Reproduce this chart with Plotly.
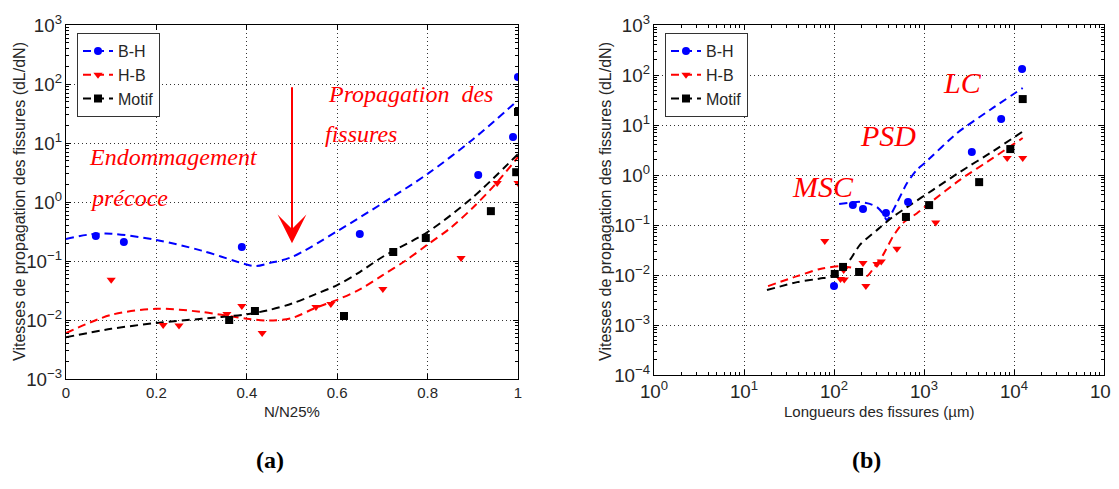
import math
import plotly.graph_objects as go

# page is rendered with an 8px body margin: figure covers the window minus that offset
OFF = 8
W, H = 1119 - OFF, 489 - OFF

# ---------------- Panel (a): rate vs N/N25% ----------------
a_bh_x = [0.066, 0.128, 0.389, 0.650, 0.912, 0.989, 1.0]
a_bh_y = [0.265, 0.21, 0.173, 0.287, 2.87, 12.6, 131]
a_hb_x = [0.10, 0.215, 0.25, 0.356, 0.389, 0.434, 0.553, 0.586, 0.701, 0.874, 0.954, 1.0]
a_hb_y = [0.048, 0.0082, 0.0081, 0.0126, 0.0173, 0.006, 0.0166, 0.0187, 0.0335, 0.112, 2.1, 2.1]
a_mo_x = [0.361, 0.418, 0.615, 0.724, 0.796, 0.94, 0.996, 1.0]
a_mo_y = [0.010, 0.0142, 0.0117, 0.142, 0.245, 0.70, 3.2, 33.5]

# dashed fitted curves
a_fit_bh_x = [0, 0.05, 0.1, 0.2, 0.3, 0.4, 0.42, 0.45, 0.5, 0.6, 0.7, 0.8, 0.9, 1.0]
a_fit_bh_y = [0.236, 0.28, 0.29, 0.227, 0.15, 0.087, 0.082, 0.092, 0.117, 0.32, 0.95, 3.0, 11.5, 53]
a_fit_hb_x = [0, 0.1, 0.2, 0.3, 0.4, 0.45, 0.5, 0.55, 0.6, 0.65, 0.7, 0.75, 0.8, 0.85, 0.9, 0.95, 1.0]
a_fit_hb_y = [0.006, 0.0122, 0.0155, 0.0137, 0.0105, 0.0098, 0.0108, 0.0158, 0.022, 0.033, 0.057, 0.10, 0.19, 0.36, 0.8, 2.0, 5.8]
a_fit_mo_x = [0, 0.1, 0.2, 0.3, 0.4, 0.45, 0.5, 0.55, 0.6, 0.65, 0.7, 0.8, 0.9, 1.0]
a_fit_mo_y = [0.0051, 0.0071, 0.0089, 0.0105, 0.0125, 0.0148, 0.019, 0.027, 0.039, 0.065, 0.117, 0.31, 1.2, 6.5]

# ---------------- Panel (b): rate vs crack length ----------------
b_bh_x = [100, 162, 210, 378, 665, 3400, 7200, 12300]
b_bh_y = [0.006, 0.25, 0.21, 0.174, 0.29, 2.88, 13.2, 132]
b_hb_x = [79, 118, 130, 128, 210, 226, 300, 335, 500, 1350, 8400, 12500]
b_hb_y = [0.048, 0.0083, 0.0081, 0.0126, 0.0173, 0.006, 0.0166, 0.0187, 0.0335, 0.112, 2.2, 2.2]
b_mo_x = [102, 126, 190, 630, 1140, 4100, 9100, 12500]
b_mo_y = [0.0105, 0.0145, 0.0115, 0.145, 0.25, 0.72, 3.3, 33]

b_fit_bh_x = [114, 150, 194, 250, 300, 350, 385, 410, 500, 648, 830, 1020, 2330, 5400, 12500]
b_fit_bh_y = [0.263, 0.28, 0.29, 0.265, 0.229, 0.17, 0.125, 0.14, 0.275, 0.69, 1.26, 1.74, 6.9, 20, 55]
b_fit_hb_x = [18.5, 39, 70, 116, 180, 232, 285, 350, 450, 585, 830, 1160, 2510, 5860, 12500]
b_fit_hb_y = [0.006, 0.0095, 0.0132, 0.015, 0.0132, 0.0095, 0.015, 0.025, 0.058, 0.11, 0.17, 0.275, 0.8, 2.2, 5.5]
b_fit_mo_x = [18, 39, 70, 98, 108, 150, 194, 300, 450, 700, 1250, 2510, 5860, 12500]
b_fit_mo_y = [0.005, 0.0072, 0.0085, 0.0095, 0.011, 0.02, 0.04, 0.079, 0.145, 0.25, 0.5, 1.15, 3.0, 7.4]

series_names = ["B-H", "H-B", "Motif"]
colors = ["#0000FF", "#FF0000", "#000000"]
symbols = ["circle", "triangle-down", "square"]
msizes = [8, 8, 8]

SANS = "Liberation Sans, Arial, sans-serif"
SERIF = "Liberation Serif, Times New Roman, serif"
TXT = "#262626"
DASH = "8px,5px"


def px(x):
    return (x - OFF) / W


def py(y):
    return 1 - (y - OFF) / H


fig = go.Figure()

panels = [
    ("x", "y", "legend",
     [(a_fit_bh_x, a_fit_bh_y), (a_fit_hb_x, a_fit_hb_y), (a_fit_mo_x, a_fit_mo_y)],
     [(a_bh_x, a_bh_y), (a_hb_x, a_hb_y), (a_mo_x, a_mo_y)], 0.9),
    ("x2", "y2", "legend2",
     [(b_fit_bh_x, b_fit_bh_y), (b_fit_hb_x, b_fit_hb_y), (b_fit_mo_x, b_fit_mo_y)],
     [(b_bh_x, b_bh_y), (b_hb_x, b_hb_y), (b_mo_x, b_mo_y)], 0.6),
]

for xa, ya, lg, fits, pts, smooth in panels:
    for i in range(3):
        fx, fy = fits[i]
        fig.add_trace(go.Scatter(
            x=fx, y=fy, mode="lines", xaxis=xa, yaxis=ya, showlegend=False,
            line=dict(color=colors[i], width=2, dash=DASH, shape="spline", smoothing=smooth),
        ))
    for i in range(3):
        px_, py_ = pts[i]
        fig.add_trace(go.Scatter(
            x=px_, y=py_, mode="markers", xaxis=xa, yaxis=ya, showlegend=False,
            marker=dict(color=colors[i], symbol=symbols[i], size=msizes[i], line=dict(width=0)),
        ))
    for i in range(3):
        fig.add_trace(go.Scatter(
            x=[None], y=[None], mode="lines+markers", xaxis=xa, yaxis=ya,
            name=series_names[i], legend=lg, showlegend=True,
            line=dict(color=colors[i], width=2, dash=DASH),
            marker=dict(color=colors[i], symbol=symbols[i], size=msizes[i]),
        ))

GRID = dict(showgrid=True, gridcolor="#333333", griddash="1px,3px", gridwidth=1)
common = dict(
    showline=True, linecolor="#000000", linewidth=1, mirror="allticks",
    ticks="inside", ticklen=5, tickcolor="#000000", automargin=False,
    zeroline=False, tickfont=dict(family=SANS, size=15, color=TXT), **GRID,
)
MINOR = dict(ticks="inside", ticklen=3, tickcolor="#000000", showgrid=False, dtick="D1")
LOGAX = dict(type="log", tickmode="linear", dtick=1, exponentformat="power",
             showexponent="all", minor=MINOR,
             labelalias={"1": "10<sup>0</sup>", "10": "10<sup>1</sup>"})

LEG = dict(xanchor="left", yanchor="top", bordercolor="#333333", borderwidth=1,
           bgcolor="white", font=dict(family=SANS, size=16, color=TXT), tracegroupgap=0)

fig.update_layout(
    width=W, height=H,
    margin=dict(l=0, r=0, t=0, b=0),
    paper_bgcolor="white", plot_bgcolor="white",
    xaxis=dict(domain=[px(66), px(518)], anchor="y", range=[0, 1], dtick=0.2,
               tick0=0, **common),
    yaxis=dict(domain=[py(379), py(25)], anchor="x", range=[-3, 3],
               tick0=0, **LOGAX, **common),
    xaxis2=dict(domain=[px(654), px(1104)], anchor="y2", range=[0, 5],
                tick0=0, **LOGAX, **common),
    yaxis2=dict(domain=[py(375), py(25)], anchor="x2", range=[-4, 3],
                tick0=0, **LOGAX, **common),
    legend=dict(x=px(77), y=py(33), **LEG),
    legend2=dict(x=px(665), y=py(33), **LEG),
    showlegend=True,
)

ann = []


def txt(x, y, s, size, family=SANS, color=TXT, italic=False, bold=False,
        angle=0, xanchor="center"):
    if italic:
        s = "<i>" + s + "</i>"
    if bold:
        s = "<b>" + s + "</b>"
    ann.append(dict(x=px(x), y=py(y), xref="paper", yref="paper", text=s,
                    showarrow=False, textangle=angle, xanchor=xanchor, yanchor="middle",
                    font=dict(family=family, size=size, color=color)))


# axis titles
txt(19, 202, "Vitesses de propagation des fissures (dL/dN)", 16, angle=-90)
txt(605, 202, "Vitesses de propagation des fissures (dL/dN)", 16, angle=-90)
txt(292, 411, "N/N25%", 15)
txt(879, 411, "Longueurs des fissures (µm)", 15)
# panel labels
txt(270, 460, "(a)", 24, family=SERIF, color="#000000", bold=True)
txt(866, 460, "(b)", 24, family=SERIF, color="#000000", bold=True)
# red annotations panel (a)
RED = "#FF0000"
txt(87, 157, "Endommagement", 24, family=SERIF, color=RED, italic=True, xanchor="left")
txt(88, 198, "précoce", 24, family=SERIF, color=RED, italic=True, xanchor="left")
txt(326, 94, "Propagation&nbsp;&nbsp;des", 24, family=SERIF, color=RED, italic=True, xanchor="left")
txt(323, 134, "fissures", 24, family=SERIF, color=RED, italic=True, xanchor="left")
# red annotations panel (b)
txt(823, 186, "MSC", 30, family=SERIF, color=RED, italic=True)
txt(888, 135, "PSD", 30, family=SERIF, color=RED, italic=True)
txt(962, 82, "LC", 30, family=SERIF, color=RED, italic=True)

# arrow in panel (a)
arrow_x = 0.5
arrow_from = 93
arrow_to = 0.2
ann.append(dict(x=arrow_x, y=math.log10(arrow_to), xref="x", yref="y",
                ax=arrow_x, ay=math.log10(arrow_from), axref="x", ayref="y",
                text="", showarrow=True, arrowhead=3, arrowsize=2.4, arrowwidth=2,
                arrowcolor=RED, standoff=0))

fig.update_layout(annotations=ann)
fig.write_html("out.html")
